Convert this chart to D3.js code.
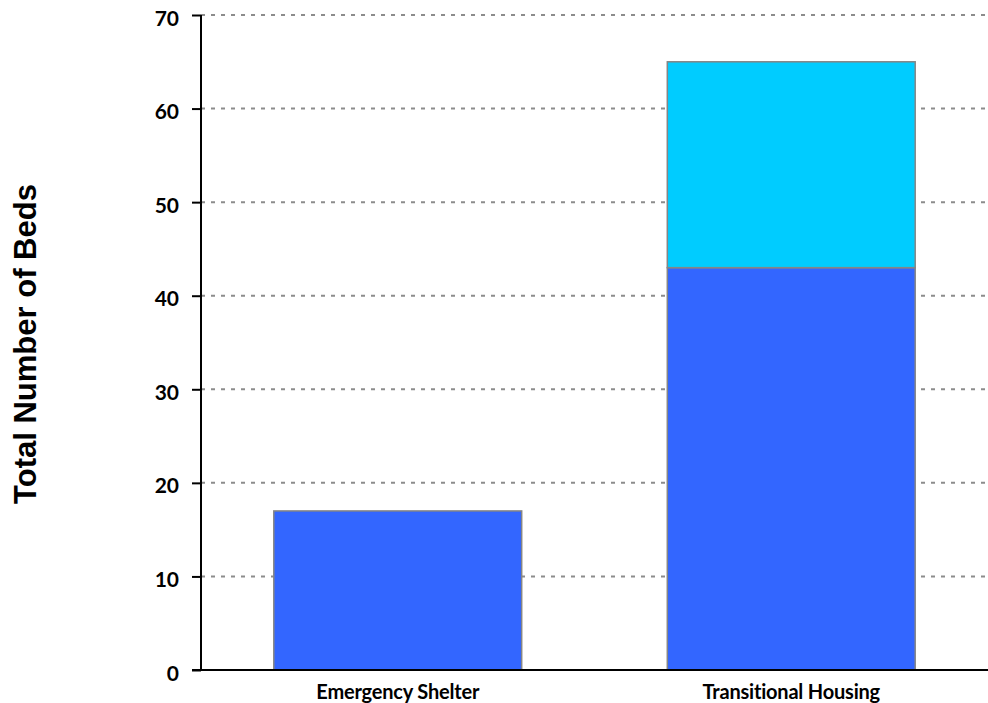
<!DOCTYPE html>
<html>
<head>
<meta charset="utf-8">
<script src="https://cdn.jsdelivr.net/npm/d3@7"></script>
<style>
  html, body { margin: 0; padding: 0; background: #fff; }
  svg { display: block; }
</style>
</head>
<body>
<svg id="chart" width="988" height="703"></svg>
<script>
// Bed inventory by project type, stacked by bed category
const categories = ["Emergency Shelter", "Transitional Housing"];
const seriesNames = ["Beds A", "Beds B"];
const bedsA = [17, 43];
const bedsB = [0, 22];
const seriesColors = ["#3366ff", "#00ccff"];
const yTicks = [0, 10, 20, 30, 40, 50, 60, 70];

const svg = d3.select("#chart");
const plotLeft = 201, plotRight = 988, plotTop = 15, plotBottom = 670;

const x = d3.scaleBand()
  .domain(categories)
  .range([plotLeft, plotRight])
  .paddingInner(0.37)
  .paddingOuter(0.185);

const y = d3.scaleLinear().domain([0, 70]).range([plotBottom, plotTop]);

// dashed gridlines
svg.append("g")
  .selectAll("line")
  .data(yTicks.filter(d => d > 0))
  .join("line")
  .attr("x1", plotLeft).attr("x2", plotRight)
  .attr("y1", d => y(d)).attr("y2", d => y(d))
  .attr("stroke", "#8c8c8c")
  .attr("stroke-width", 2)
  .attr("stroke-dasharray", "4,6");

// stacked bars
const rows = categories.map((c, i) => ({ cat: c, "Beds A": bedsA[i], "Beds B": bedsB[i] }));
const stack = d3.stack().keys(seriesNames)(rows);

svg.append("g")
  .selectAll("g")
  .data(stack)
  .join("g")
  .attr("fill", (d, i) => seriesColors[i])
  .selectAll("rect")
  .data(d => d.filter(s => s[1] - s[0] > 0))
  .join("rect")
  .attr("x", d => x(d.data.cat))
  .attr("width", x.bandwidth())
  .attr("y", d => y(d[1]))
  .attr("height", d => y(d[0]) - y(d[1]))
  .attr("stroke", "#858585")
  .attr("stroke-width", 1.5);

// y axis
const yAxis = svg.append("g")
  .attr("transform", `translate(${plotLeft},0)`)
  .call(d3.axisLeft(y).tickValues(yTicks).tickSize(9).tickPadding(13).tickFormat(d3.format("d")));
yAxis.select(".domain").attr("stroke", "#000").attr("stroke-width", 2).attr("d", `M0,${plotTop}V${plotBottom}`);
yAxis.selectAll(".tick line").attr("stroke", "#000").attr("stroke-width", 2);
yAxis.selectAll(".tick text")
  .attr("font-family", "Lato, sans-serif")
  .attr("font-weight", "bold")
  .attr("font-size", 21)
  .attr("dy", 10)
  .attr("fill", "#000");

// x axis
const xAxis = svg.append("g")
  .attr("transform", `translate(0,${plotBottom})`)
  .call(d3.axisBottom(x).tickSize(0));
xAxis.select(".domain").attr("stroke", "#000").attr("stroke-width", 2).attr("d", `M${plotLeft - 9},0H${plotRight}`);
xAxis.selectAll(".tick text")
  .attr("font-family", "Lato, sans-serif")
  .attr("font-weight", "bold")
  .attr("font-size", 20)
  .attr("letter-spacing", -0.2)
  .attr("y", 29)
  .attr("dy", 0)
  .attr("fill", "#000");

// y axis title
svg.append("text")
  .attr("transform", "translate(36,344) rotate(-90)")
  .attr("text-anchor", "middle")
  .attr("font-family", "'Liberation Sans', Arial, sans-serif")
  .attr("font-weight", "bold")
  .attr("font-size", 31)
  .attr("fill", "#000")
  .text("Total Number of Beds");
</script>
</body>
</html>
